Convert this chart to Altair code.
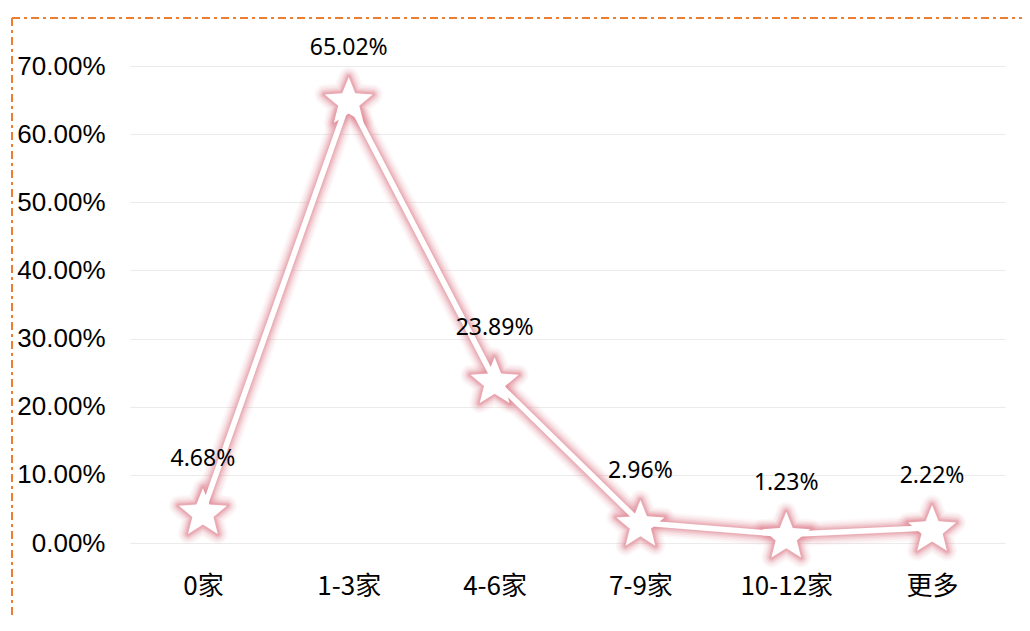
import math
import altair as alt
import pandas as pd

categories = ["0家", "1-3家", "4-6家", "7-9家", "10-12家", "更多"]
values = [0.0468, 0.6502, 0.2389, 0.0296, 0.0123, 0.0222]
labels = ["4.68%", "65.02%", "23.89%", "2.96%", "1.23%", "2.22%"]

df = pd.DataFrame({"cat": categories, "val": values, "lab": labels})

GLOW = "#e48f9b"
BORDER = "#ED7D31"

# five-pointed star symbol path in the unit box
pts = []
for k in range(10):
    r = 1.0 if k % 2 == 0 else 0.44
    a = math.radians(-90 + 36 * k)
    pts.append(f"{r * math.cos(a):.4f},{r * math.sin(a) + 0.095:.4f}")
STAR = "M" + "L".join(pts) + "Z"
SIZE = 2550

x_enc = alt.X("cat:N", sort=categories, title=None,
              scale=alt.Scale(padding=0.5),
              axis=alt.Axis(labelAngle=0, domain=False, ticks=False, grid=False,
                            labelFont="Noto Sans CJK SC", labelFontSize=26,
                            labelColor="#000000", labelPadding=30))
y_enc = alt.Y("val:Q", title=None,
              scale=alt.Scale(domain=[0, 0.7], nice=False),
              axis=alt.Axis(format=".2%", values=[0, 0.1, 0.2, 0.3, 0.4, 0.5, 0.6, 0.7],
                            domain=False, ticks=False,
                            grid=True, gridColor="#ebebeb", gridWidth=1.2,
                            labelFont="Liberation Sans", labelFontSize=26,
                            labelColor="#000000", labelPadding=25))

base = alt.Chart(df).encode(x=x_enc, y=y_enc)

layers = []
for w, op in [(25, 0.07), (21, 0.1), (17, 0.14), (14, 0.18), (11, 0.25), (8.5, 0.32)]:
    layers.append(base.mark_line(color=GLOW, strokeWidth=w, opacity=op, strokeJoin="round"))
for w, op in [(20, 0.07), (16, 0.1), (12, 0.15), (9, 0.2), (6, 0.28), (4, 0.35)]:
    layers.append(base.mark_point(shape=STAR, size=SIZE, filled=False, color=GLOW,
                                  strokeWidth=w, opacity=op, strokeJoin="round"))
layers.append(base.mark_line(color="#ffffff", strokeWidth=5.5, strokeJoin="round"))
layers.append(base.mark_point(shape=STAR, size=SIZE, filled=True, color="#ffffff", opacity=1))

txt = base.mark_text(font="Noto Sans", fontSize=23, color="#000000", dy=-52).encode(
    text="lab:N"
)
layers.append(txt)

border_top = alt.Chart(df).mark_rule(color=BORDER, strokeWidth=2, strokeDash=[8, 4, 3, 4]).encode(
    x=alt.value(-118), x2=alt.value(900), y=alt.value(-48))
border_left = alt.Chart(df).mark_rule(color=BORDER, strokeWidth=2, strokeDash=[8, 4, 3, 4]).encode(
    x=alt.value(-118), y=alt.value(-48), y2=alt.value(570))
layers += [border_top, border_left]

chart = alt.layer(*layers).properties(
    width=875, height=477,
    autosize=alt.AutoSizeParams(type="none"),
    padding={"left": 122, "top": 58, "right": 17, "bottom": 76},
    background="#ffffff",
).configure_view(stroke=None)

chart.save("out.html", embed_options={"renderer": "svg", "actions": False})
